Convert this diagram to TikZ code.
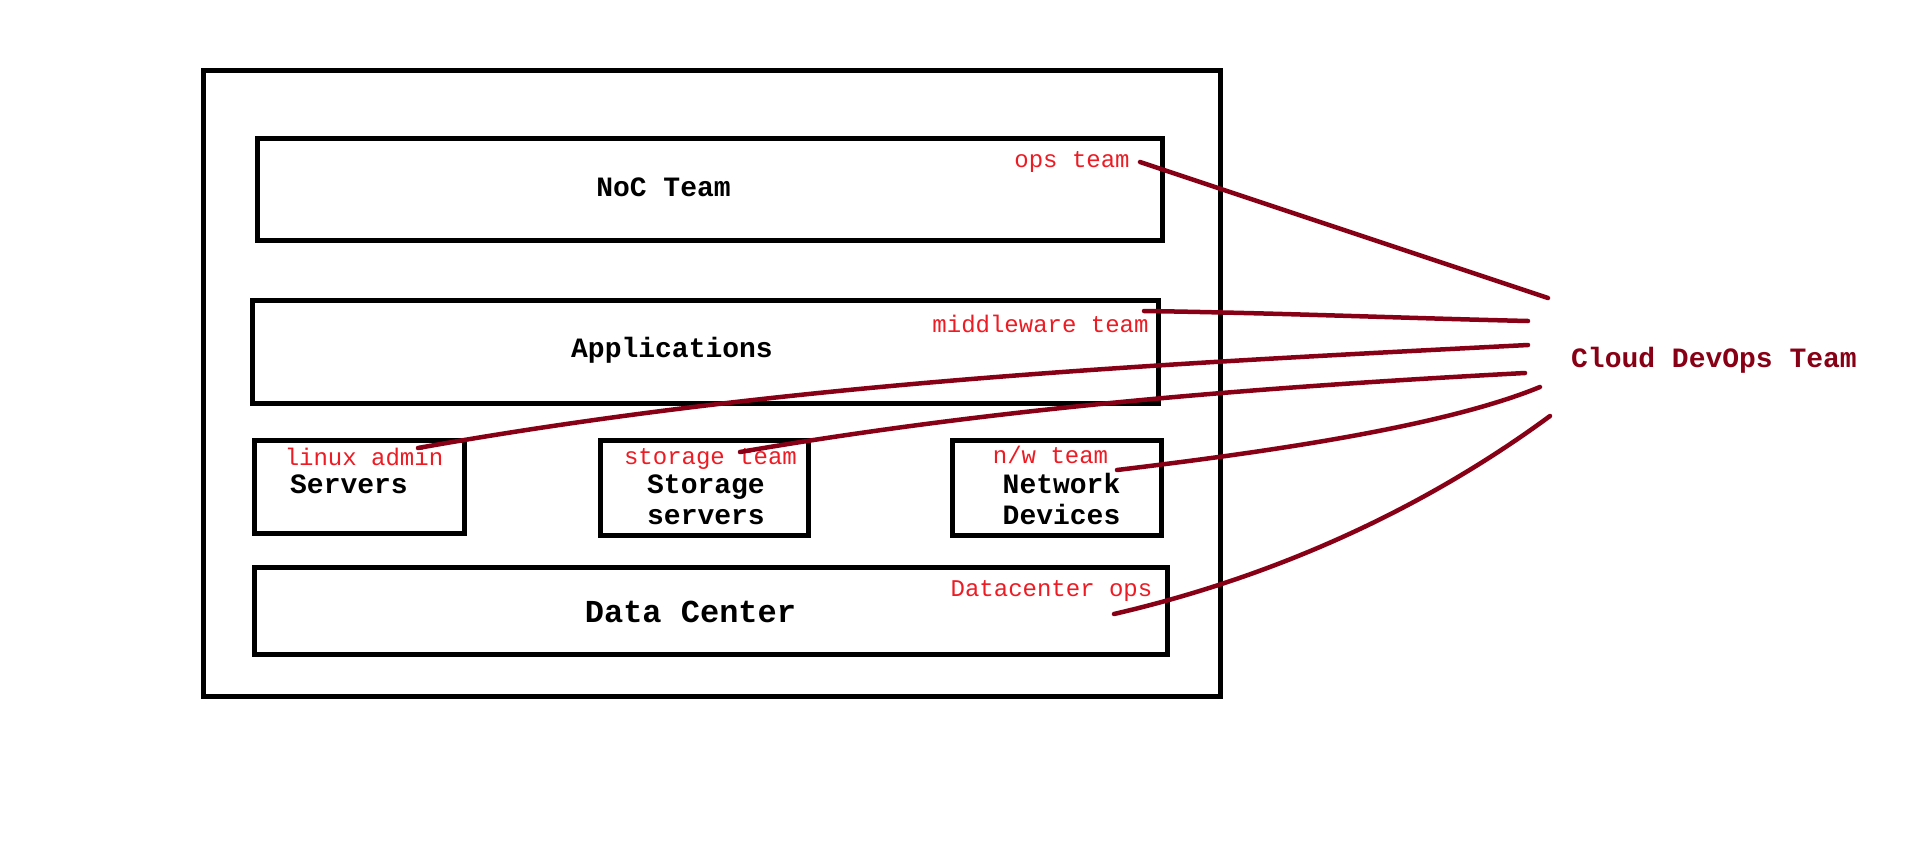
\documentclass[tikz,border=0pt]{standalone}
\usepackage{fontspec}
\newfontfamily\cour{Liberation Mono}
\definecolor{dred}{RGB}{136,0,21}
\definecolor{lred}{RGB}{237,28,36}
\begin{document}
\begin{tikzpicture}[x=1pt,y=-1pt,
  box/.style={draw=black,line width=5pt,inner sep=0pt,outer sep=0pt},
  blk/.style={font=\cour\bfseries\fontsize{28}{31}\selectfont,text=black,anchor=base,inner sep=0pt,align=center},
  lbl/.style={font=\cour\fontsize{24}{28}\selectfont,text=lred,anchor=base,inner sep=0pt},
  link/.style={draw=dred,line width=4.5pt,line cap=round}]
\fill[white] (0,0) rectangle (1914,867);
\useasboundingbox (0,0) rectangle (1914,867);
% boxes
\node[box,minimum width=1016.5pt,minimum height=625pt] (outer) at (711.75,383.5) {};
\node[box,minimum width=904.5pt,minimum height=102pt] (noc) at (709.75,189) {};
\node[box,minimum width=905.5pt,minimum height=103pt] (app) at (705.25,351.5) {};
\node[box,minimum width=209.5pt,minimum height=93pt] (srv) at (359.25,486.5) {};
\node[box,minimum width=208pt,minimum height=94.5pt] (sto) at (704,488) {};
\node[box,minimum width=209pt,minimum height=94.5pt] (net) at (1056.5,488) {};
\node[box,minimum width=912.5pt,minimum height=87pt] (dc) at (710.75,610.5) {};
% black texts
\node[blk] (tnoc) at (663.5,196) {NoC Team};
\node[blk] (tapp) at (672,357) {Applications};
\node[blk] (tsrv) at (349,493) {Servers};
\node[blk] (tsto) at (706,524) {Storage\\servers};
\node[blk] (tnet) at (1061.5,524) {Network\\Devices};
\node[blk,font=\cour\bfseries\fontsize{32}{36}\selectfont] (tdc) at (690.5,622) {Data Center};
% red labels
\node[lbl] (lops) at (1072,167) {ops team};
\node[lbl] (lmid) at (1040.5,332) {middleware team};
\node[lbl] (llin) at (364,465) {linux admin};
\node[lbl] (lsto) at (710.5,464) {storage team};
\node[lbl] (lnw) at (1050.5,463) {n/w team};
\node[lbl] (ldc) at (1051.5,596) {Datacenter ops};
% cloud team
\node[blk,text=dred] (cloud) at (1714,367) {Cloud DevOps Team};
% connector end points
\coordinate (opsS) at (1140,162);
\coordinate (opsE) at (1548,298);
\coordinate (midS) at (1144,311);
\coordinate (midE) at (1528,321);
\coordinate (linS) at (418,448);
\coordinate (linE) at (1528,345);
\coordinate (stoS) at (740,452);
\coordinate (stoE) at (1525,373);
\coordinate (nwS) at (1117,470);
\coordinate (nwE) at (1540,387);
\coordinate (dcS) at (1114,614);
\coordinate (dcE) at (1550,416);
% connectors
\draw[link] (opsS) -- (opsE);
\draw[link] (midS) .. controls (1280,313) and (1400,318) .. (midE);
\draw[link] (linS) .. controls (788,382) and (1158,364) .. (linE);
\draw[link] (stoS) .. controls (1002,407) and (1263,387) .. (stoE);
\draw[link] (nwS) .. controls (1258,453) and (1440,428) .. (nwE);
\draw[link] (dcS) .. controls (1295,572) and (1440,497) .. (dcE);
\end{tikzpicture}
\end{document}
